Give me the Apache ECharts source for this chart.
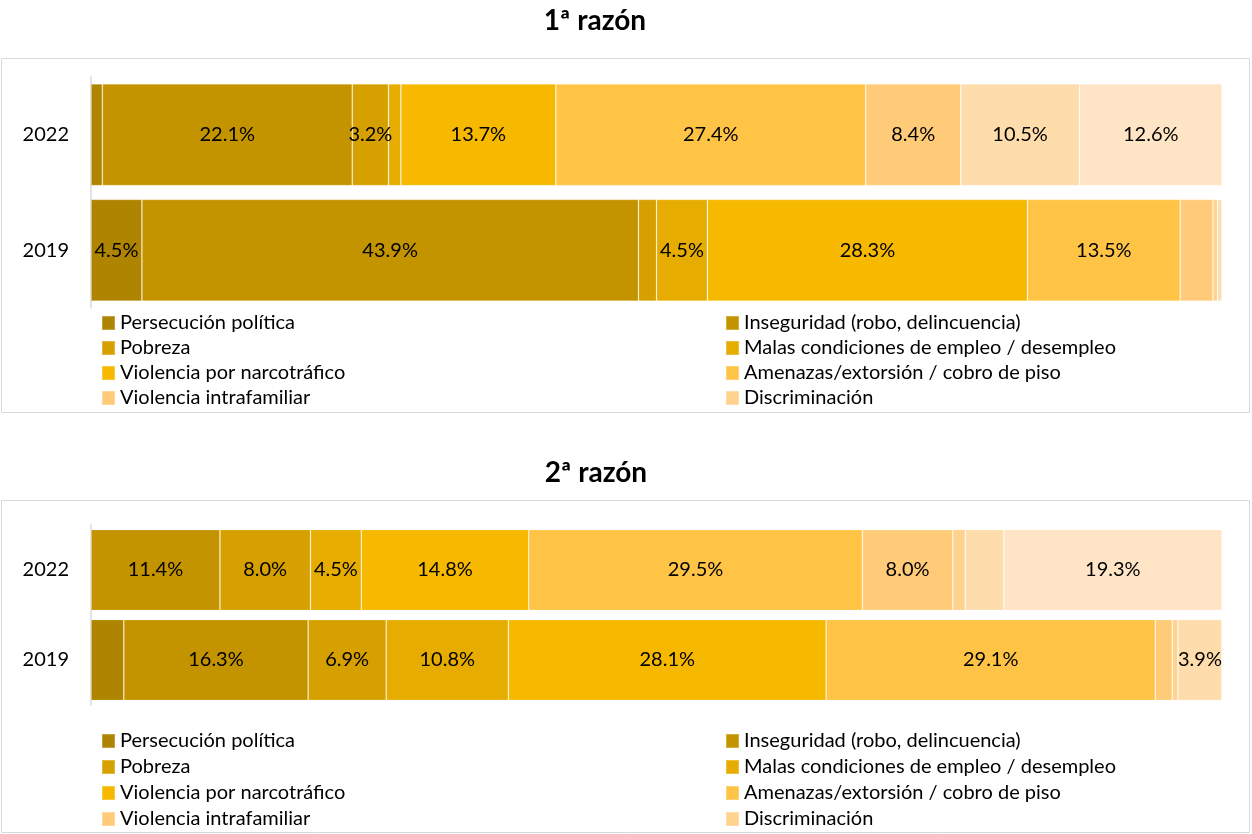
<!DOCTYPE html>
<html>
<head>
<meta charset="utf-8">
<script src="https://cdn.jsdelivr.net/npm/echarts@6/dist/echarts.min.js"></script>
<style>
  html, body { margin: 0; padding: 0; background: #fff; }
  #chart { width: 1252px; height: 834px; }
</style>
</head>
<body>
<div id="chart"></div>
<script>
// categories (top to bottom)
const years = ['2022', '2019']

// reasons, in stacking order (last two are not in the legend)
const reasons = [
  'Persecución política',
  'Inseguridad (robo, delincuencia)',
  'Pobreza',
  'Malas condiciones de empleo / desempleo',
  'Violencia por narcotráfico',
  'Amenazas/extorsión / cobro de piso',
  'Violencia intrafamiliar',
  'Discriminación',
  'Otra razón',
  'No especificó'
]
const legendLeft = ['Persecución política', 'Pobreza', 'Violencia por narcotráfico', 'Violencia intrafamiliar']
const legendRight = ['Inseguridad (robo, delincuencia)', 'Malas condiciones de empleo / desempleo', 'Amenazas/extorsión / cobro de piso', 'Discriminación']

const colors = ['#af8400', '#c49400', '#d6a000', '#e6ac00', '#f6b900', '#ffc445',
  '#ffcb78', '#ffd28e', '#ffdcab', '#ffe5c6']

// 1ª razón (%)
const first2022 = [1.0, 22.1, 3.2, 1.1, 13.7, 27.4, 8.4, 0, 10.5, 12.6]
const first2019 = [4.5, 43.9, 1.6, 4.5, 28.3, 13.5, 2.9, 0.4, 0.4, 0]
// 2ª razón (%)
const second2022 = [0, 11.4, 8.0, 4.5, 14.8, 29.5, 8.0, 1.1, 3.4, 19.3]
const second2019 = [2.9, 16.3, 6.9, 10.8, 28.1, 29.1, 1.5, 0.5, 3.9, 0]
// segments whose label is left out in the original (panel, year index, reason index)
const unlabeled = [[1, 0, 8]]

const font = 'Lato'

function makeSeries(gridIdx, a, b) {
  return reasons.map((name, i) => ({
    name: name,
    type: 'bar',
    stack: 'g' + gridIdx,
    xAxisIndex: gridIdx,
    yAxisIndex: gridIdx,
    barCategoryGap: gridIdx === 0 ? '12%' : '10%',
    itemStyle: { color: colors[i], borderColor: 'rgba(255,255,255,0.25)', borderWidth: 0.8 },
    label: {
      show: true,
      position: 'inside',
      color: '#000',
      fontSize: 20,
      fontFamily: font,
      formatter: p => (p.value >= 3 ? p.value.toFixed(1) + '%' : '')
    },
    emphasis: { disabled: true },
    data: [a[i], b[i]].map((v, k) => {
      const off = unlabeled.some(u => u[0] === gridIdx && u[1] === k && u[2] === i)
      return off ? { value: v, label: { show: false } } : v
    })
  }))
}

function makeLegend(data, left, top, gap) {
  return {
    data: data,
    orient: 'vertical',
    left: left,
    top: top,
    height: 120,
    icon: 'rect',
    itemWidth: 13,
    itemHeight: 14,
    itemGap: gap,
    selectedMode: false,
    textStyle: { fontSize: 20, fontFamily: font, color: '#000' }
  }
}

const chart = echarts.init(document.getElementById('chart'))
chart.setOption({
  animation: false,
  color: colors,
  title: [
    { text: '1ª razón', left: 590, top: 2, textAlign: 'center',
      textStyle: { fontSize: 28, fontWeight: 'bold', fontFamily: font, color: '#000' } },
    { text: '2ª razón', left: 591, top: 454, textAlign: 'center',
      textStyle: { fontSize: 28, fontWeight: 'bold', fontFamily: font, color: '#000' } }
  ],
  graphic: [
    { type: 'rect', shape: { x: 1.5, y: 58.5, width: 1248, height: 354 },
      style: { fill: 'none', stroke: '#d9d9d9', lineWidth: 1 }, silent: true },
    { type: 'rect', shape: { x: 1.5, y: 500.5, width: 1248, height: 332 },
      style: { fill: 'none', stroke: '#d9d9d9', lineWidth: 1 }, silent: true }
  ],
  legend: [
    makeLegend(legendLeft, 96, 308, 5),
    makeLegend(legendRight, 720, 308, 5),
    makeLegend(legendLeft, 96, 726, 6),
    makeLegend(legendRight, 720, 726, 6)
  ],
  grid: [
    { left: 91, width: 1131, top: 77, height: 231 },
    { left: 91, width: 1131, top: 525, height: 180 }
  ],
  xAxis: [
    { type: 'value', gridIndex: 0, min: 0, max: 100, show: false },
    { type: 'value', gridIndex: 1, min: 0, max: 100, show: false }
  ],
  yAxis: [0, 1].map(g => ({
    type: 'category',
    gridIndex: g,
    data: years,
    inverse: true,
    axisLine: { lineStyle: { color: '#d9d9d9', width: 1.5 } },
    axisTick: { show: false },
    axisLabel: { fontSize: 20, fontFamily: font, color: '#000', margin: 22 }
  })),
  series: makeSeries(0, first2022, first2019).concat(makeSeries(1, second2022, second2019))
})
</script>
</body>
</html>
